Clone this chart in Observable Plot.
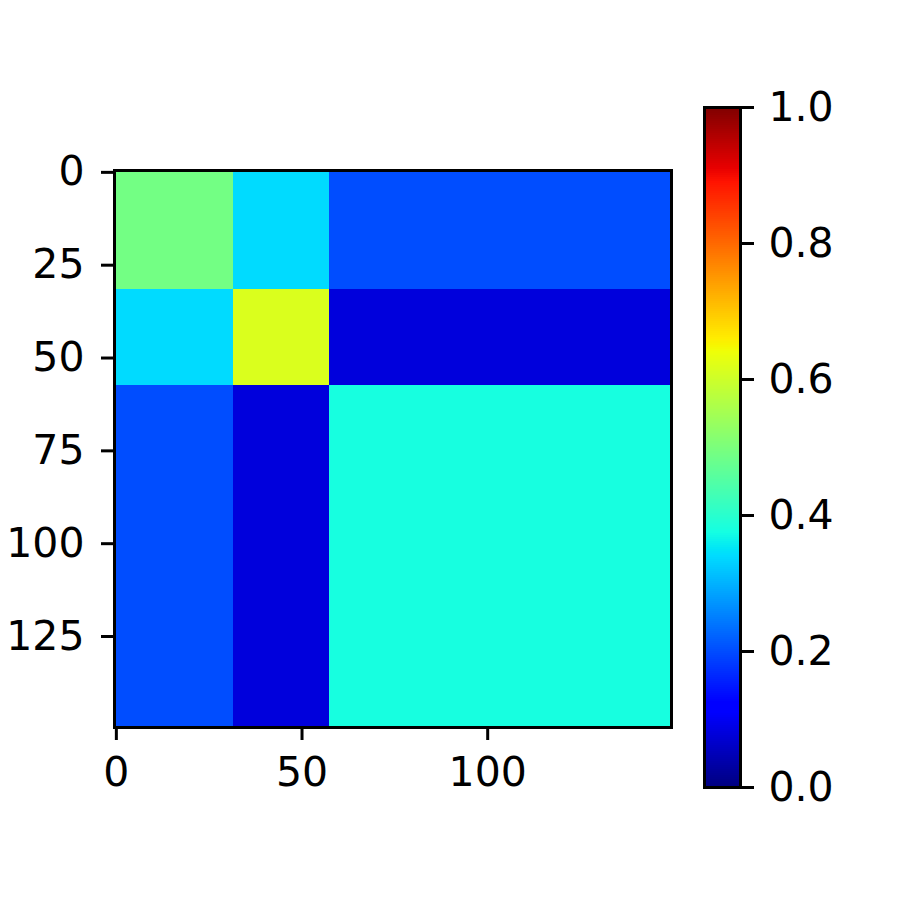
<!DOCTYPE html>
<html>
<head>
<meta charset="utf-8">
<script src="https://cdn.jsdelivr.net/npm/d3@7"></script>
<script src="https://cdn.jsdelivr.net/npm/@observablehq/plot@0.6"></script>
<style>
  html, body { margin: 0; padding: 0; background: #fff; }
  #wrap { position: relative; width: 900px; height: 900px; }
  #wrap > svg { position: absolute; left: 0; top: 0; }
</style>
</head>
<body>
<div id="wrap"></div>
<script>
// ---- data ----
const groupStarts = [0, 32, 58];          // first row/column index of each block
const groupEnds   = [32, 58, 150];        // one past last index of each block
const blockValues = [                     // mean value of each block (row group x column group)
  [0.49, 0.34, 0.20],
  [0.34, 0.615, 0.08],
  [0.20, 0.08, 0.378]
];
const xTicks = [0, 50, 100];
const yTicks = [0, 25, 50, 75, 100, 125];
const cbarTicks = [0, 0.2, 0.4, 0.6, 0.8, 1.0];

// ---- matplotlib "jet" colormap ----
const jetSeg = {
  r: [[0, 0], [0.35, 0], [0.66, 1], [0.89, 1], [1, 0.5]],
  g: [[0, 0], [0.125, 0], [0.375, 1], [0.64, 1], [0.91, 0], [1, 0]],
  b: [[0, 0.5], [0.11, 1], [0.34, 1], [0.65, 0], [1, 0]]
};
function seg(pts, t) {
  t = Math.max(0, Math.min(1, t));
  for (let i = 1; i < pts.length; i++) {
    if (t <= pts[i][0]) {
      const [x0, y0] = pts[i - 1], [x1, y1] = pts[i];
      return y0 + (y1 - y0) * (t - x0) / (x1 - x0);
    }
  }
  return pts[pts.length - 1][1];
}
function jet(t) {
  return d3.rgb(seg(jetSeg.r, t) * 255, seg(jetSeg.g, t) * 255, seg(jetSeg.b, t) * 255).formatRgb();
}

// ---- table of blocks ----
const blocks = [];
for (let i = 0; i < groupStarts.length; i++) {
  for (let j = 0; j < groupStarts.length; j++) {
    blocks.push({
      x1: groupStarts[j] - 0.5, x2: groupEnds[j] - 0.5,
      y1: groupStarts[i] - 0.5, y2: groupEnds[i] - 0.5,
      v: blockValues[i][j]
    });
  }
}

const font = "DejaVu Sans, sans-serif";
const fs = 41;

const main = Plot.plot({
  width: 900, height: 900,
  marginLeft: 114, marginRight: 229, marginTop: 170, marginBottom: 173,
  style: { fontFamily: font, fontSize: fs + "px", background: "transparent", color: "black" },
  x: { domain: [-0.5, 149.5] },
  y: { domain: [-0.5, 149.5], reverse: true },
  color: { type: "linear", domain: [0, 1], interpolate: jet },
  marks: [
    Plot.rect(blocks, { x1: "x1", x2: "x2", y1: "y1", y2: "y2", fill: "v", inset: 0, shapeRendering: "crispEdges" }),
    Plot.frame({ stroke: "black", strokeWidth: 3 }),
    Plot.axisX({ ticks: xTicks, tickSize: 13, tickPadding: 16, strokeWidth: 3, fontSize: fs, label: null, tickFormat: d3.format("d") }),
    Plot.axisY({ ticks: yTicks, tickSize: 13, tickPadding: 17, strokeWidth: 3, fontSize: fs, label: null, tickFormat: d3.format("d") })
  ]
});

const cbarSteps = d3.range(0, 1, 1 / 340);
const cbar = Plot.plot({
  width: 900, height: 900,
  marginLeft: 704, marginRight: 160, marginTop: 107, marginBottom: 113,
  style: { fontFamily: font, fontSize: fs + "px", background: "transparent", color: "black" },
  x: { domain: [0, 1], axis: null },
  y: { domain: [0, 1] },
  color: { type: "linear", domain: [0, 1], interpolate: jet },
  marks: [
    Plot.rect(cbarSteps, { x1: 0, x2: 1, y1: d => d, y2: d => Math.min(1, d + 1 / 340 + 0.0005), fill: d => d + 0.5 / 340 }),
    Plot.frame({ stroke: "black", strokeWidth: 3 }),
    Plot.axisY({ anchor: "right", ticks: cbarTicks, tickSize: 13, tickPadding: 15, strokeWidth: 3, fontSize: fs, label: null, tickFormat: d3.format(".1f") })
  ]
});

const wrap = document.getElementById("wrap");
wrap.appendChild(main);
wrap.appendChild(cbar);
</script>
</body>
</html>
